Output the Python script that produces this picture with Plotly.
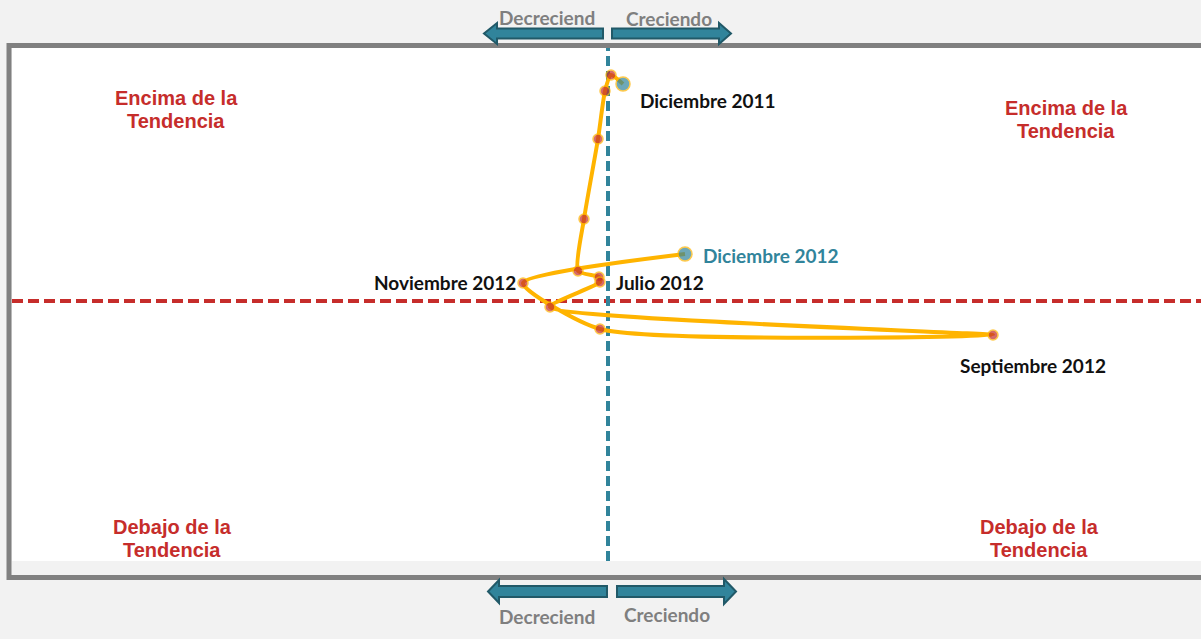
import plotly.graph_objects as go

# ---------------- data ----------------
months = ["Diciembre 2011", "Enero 2012", "Febrero 2012", "Marzo 2012", "Abril 2012",
          "Mayo 2012", "Junio 2012", "Julio 2012", "Agosto 2012", "Septiembre 2012",
          "Octubre 2012", "Noviembre 2012", "Diciembre 2012"]
# horizontal: change (growth) ; vertical: position relative to trend
x_vals = [0.15, 0.03, -0.03, -0.10, -0.24, -0.30, -0.09, -0.08, -0.58, 3.85, -0.08, -0.85, 0.77]
y_vals = [2.17, 2.26, 2.10, 1.62, 0.82, 0.30, 0.24, 0.19, -0.06, -0.34, -0.28, 0.18, 0.47]

quadrant_top = ["Encima de la", "Tendencia"]
quadrant_bottom = ["Debajo de la", "Tendencia"]
arrow_left = "Decreciend"
arrow_right = "Creciendo"

# ---------------- style ----------------
W, H = 1201, 639
PL, PT, PR, PB = 12, 48, 1201, 561  # plot area in pixels
TEAL = "#31849b"
TEAL_DARK = "#215968"
RED = "#c62d2b"
ORANGE = "#ffb400"
GRAY = "#808080"

def px(x):
    return (x - PL) / (PR - PL)

def py(y):
    return (PB - y) / (PB - PT)

n = len(months)
colors = [TEAL] + [RED] * (n - 2) + [TEAL]
sizes = [14] + [10] * (n - 2) + [14]

fig = go.Figure()
fig.add_trace(go.Scatter(
    x=x_vals, y=y_vals, mode="lines+markers",
    line=dict(color=ORANGE, width=4, shape="spline", smoothing=0.6),
    marker=dict(color=colors, size=sizes, line=dict(color=ORANGE, width=1.5)),
    hovertext=months, hoverinfo="text", showlegend=False,
))

shapes = []
# horizontal dashed red line (trend)
shapes.append(dict(type="line", xref="paper", yref="y", x0=0, x1=1, y0=0, y1=0,
                   line=dict(color=RED, width=4, dash="11px,5px"), layer="below"))
# vertical dashed teal line
shapes.append(dict(type="line", xref="x", yref="paper", x0=0, x1=0, y0=0, y1=1,
                   line=dict(color=TEAL, width=4, dash="10px,5px"), layer="below"))
# frame
shapes.append(dict(type="rect", xref="paper", yref="paper",
                   x0=px(9), x1=px(1215), y0=py(577.5), y1=py(45.5),
                   line=dict(color=GRAY, width=5), fillcolor="rgba(0,0,0,0)", layer="above"))

def arrow(x_tail, x_tip, yc, body_h, head_h, head_len):
    d = 1 if x_tip > x_tail else -1
    xb = x_tip - d * head_len
    pts = [(x_tail, yc - body_h / 2), (xb, yc - body_h / 2), (xb, yc - head_h / 2),
           (x_tip, yc), (xb, yc + head_h / 2), (xb, yc + body_h / 2), (x_tail, yc + body_h / 2)]
    path = "M " + " L ".join(f"{px(a):.5f},{py(b):.5f}" for a, b in pts) + " Z"
    return dict(type="path", xref="paper", yref="paper", path=path,
                fillcolor=TEAL, line=dict(color=TEAL_DARK, width=2), layer="above")

shapes.append(arrow(603, 484, 33.5, 10, 21, 13))
shapes.append(arrow(612, 731, 33.5, 10, 21, 12))
shapes.append(arrow(607, 488, 591.5, 11, 23, 11))
shapes.append(arrow(617, 736, 591.5, 11, 25, 12))

ann = []
lab_font = dict(family="Lato", size=19, color="#111111")
i11 = months.index("Diciembre 2011")
ann.append(dict(x=x_vals[i11], y=y_vals[i11], text="<b>Diciembre 2011</b>", showarrow=False,
                xanchor="left", yanchor="middle", xshift=15, yshift=-16, font=lab_font))
i12 = months.index("Diciembre 2012")
ann.append(dict(x=x_vals[i12], y=y_vals[i12], text="<b>Diciembre 2012</b>", showarrow=False,
                xanchor="left", yanchor="middle", xshift=16, yshift=-1,
                font=dict(family="Lato", size=19, color=TEAL)))
inov = months.index("Noviembre 2012")
ann.append(dict(x=x_vals[inov], y=y_vals[inov], text="<b>Noviembre 2012</b>", showarrow=False,
                xanchor="right", yanchor="middle", xshift=-5, yshift=1, font=lab_font))
ijul = months.index("Julio 2012")
ann.append(dict(x=x_vals[ijul], y=y_vals[ijul], text="<b>Julio 2012</b>", showarrow=False,
                xanchor="left", yanchor="middle", xshift=14, yshift=0, font=lab_font))
isep = months.index("Septiembre 2012")
ann.append(dict(x=x_vals[isep], y=y_vals[isep], text="<b>Septiembre 2012</b>", showarrow=False,
                xanchor="center", yanchor="middle", xshift=40, yshift=-30, font=lab_font))

q_font = dict(family="Liberation Sans", size=20, color=RED)
for (xp, yp, lines) in [(176, 98, quadrant_top), (1066, 108, quadrant_top),
                        (172, 527, quadrant_bottom), (1039, 527, quadrant_bottom)]:
    for k, t in enumerate(lines):
        ann.append(dict(xref="paper", yref="paper", x=px(xp), y=py(yp + 23 * k),
                        text=f"<b>{t}</b>", showarrow=False, xanchor="center",
                        yanchor="middle", font=q_font))

a_font = dict(family="Lato", size=19, color="#7f7f7f")
for (xp, yp, t) in [(547, 18, arrow_left), (669, 19, arrow_right),
                    (547, 616, arrow_left), (667, 615, arrow_right)]:
    ann.append(dict(xref="paper", yref="paper", x=px(xp), y=py(yp), text=f"<b>{t}</b>",
                    showarrow=False, xanchor="center", yanchor="middle", font=a_font))

fig.update_layout(
    width=W, height=H,
    margin=dict(l=PL, r=W - PR, t=PT, b=H - PB, pad=0),
    paper_bgcolor="#f2f2f2", plot_bgcolor="white",
    shapes=shapes, annotations=ann,
    xaxis=dict(range=[(PL - 608) / 100, (PR - 608) / 100], visible=False, fixedrange=True),
    yaxis=dict(range=[(301 - PB) / 100, (301 - PT) / 100], visible=False, fixedrange=True),
    showlegend=False,
)

fig.write_html(
    "out.html",
    config={"displayModeBar": False},
    post_script="document.body.style.margin='0';document.body.style.overflow='hidden';"
                "document.body.style.background='#f2f2f2';",
)
